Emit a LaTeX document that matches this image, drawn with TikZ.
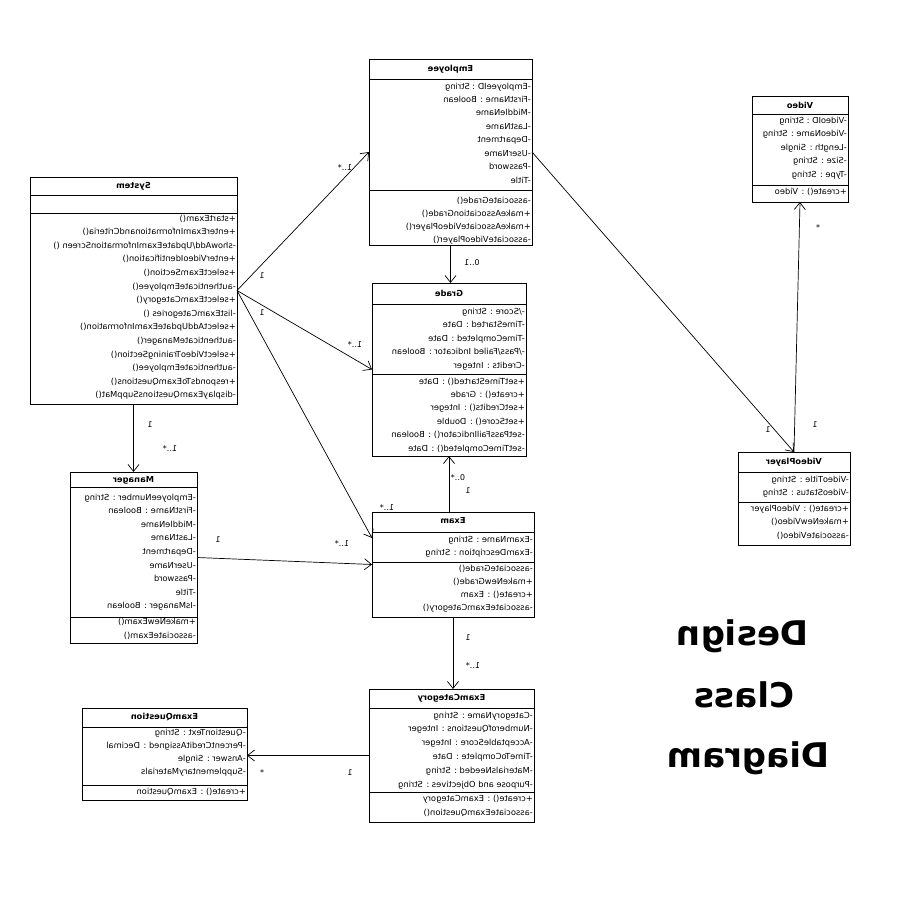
\documentclass[tikz,border=0pt]{standalone}
\usepackage{fontspec}
\setmainfont{DejaVu Sans}
\usepackage{graphicx}
\usetikzlibrary{arrows.meta,calc}
\newcommand\rf[1]{\reflectbox{#1}}
\newcommand\tlines[5]{\foreach \t [count=\i] in {#5} {\node[txt] (#1\i) at (#2,{#3+(\i-1)*#4}) {\rf{\t}};}}
\tikzset{
 cbox/.style={draw, line width=0.9pt, anchor=north west, inner sep=0pt, outer sep=0pt},
 txt/.style={anchor=east, inner sep=0pt, font=\fontsize{8.3}{10}\selectfont, text height=6pt, text depth=2pt},
 ttl/.style={inner sep=0pt, font=\bfseries\fontsize{8.3}{10}\selectfont},
 lbl/.style={inner sep=0pt, font=\fontsize{8}{10}\selectfont},
 assoc/.style={line width=0.7pt, -{Straight Barb[length=7pt,width=11pt,line width=0.7pt]}},
 sep/.style={line width=0.9pt},
 big/.style={inner sep=0pt, anchor=base, font=\bfseries\fontsize{34}{40}\selectfont},
}
\begin{document}
\begin{tikzpicture}[x=1pt,y=-1pt]
\path[use as bounding box, fill=white] (0,0) rectangle (900,900);

% Employee
\node[cbox, minimum width=163pt, minimum height=186pt] (emp) at (369,59) {};
\draw[sep] (369,79) -- (532,79);
\draw[sep] (369,190) -- (532,190);
\node[ttl] (empT) at (450.5,69) {\rf{Employee}};
\tlines{empa}{531}{87}{13.43}{{-EmployeeID : String},{-FirstName : Boolean},{-MiddleName},{-LastName},{-Department},{-UserName},{-Password},{-Title}}
\tlines{empm}{531}{201}{13}{{-associateGrade()},{+makeAssociationGrade()},{+makeAssociateVideoPlayer()},{-associateVideoPlayer()}}

% System
\node[cbox, minimum width=207pt, minimum height=227pt] (sys) at (30,177) {};
\draw[sep] (30,195) -- (237,195);
\draw[sep] (30,213) -- (237,213);
\node[ttl] (sysT) at (133.5,186) {\rf{System}};
\tlines{sysm}{236}{219}{13.6}{{+startExam()},{+enterExamInformationandCriteria()},{-showAdd/UpdateExamInformationScreen ()},{+enterVideoIdentification()},{+selectExamSection()},{-authenticateEmployee()},{+selectExamCategory()},{-listExamCategories ()},{+selectAddUpdateExamInformation()},{-authenticateManager()},{+selectVideoTrainingSection()},{-authenticateEmployee()},{+respondsToExamQuestions()},{-displayExamQuestionsSuppMat()}}

% Grade
\node[cbox, minimum width=154pt, minimum height=173pt] (grade) at (372,283) {};
\draw[sep] (372,304) -- (526,304);
\draw[sep] (372,374) -- (526,374);
\node[ttl] (gradeT) at (449,293) {\rf{Grade}};
\tlines{gradea}{525}{312}{13.5}{{-/Score : String},{-TimeStarted : Date},{-TimeCompleted : Date},{-/Pass/Failed Indicator : Boolean},{-Credits : Integer}}
\tlines{gradem}{525}{382}{13.4}{{+setTimeStarted() : Date},{+create() : Grade},{+setCredits() : Integer},{+setScore() : Double},{-setPassFailIndicator() : Boolean},{-setTimeCompleted() : Date}}

% Video
\node[cbox, minimum width=96pt, minimum height=106pt] (vid) at (752,96) {};
\draw[sep] (752,114) -- (848,114);
\draw[sep] (752,185) -- (848,185);
\node[ttl] (vidT) at (800,105) {\rf{Video}};
\tlines{vida}{847}{121}{13.5}{{-VideoID : String},{-VideoName : String},{-Length : Single},{-Size : String},{-Type : String}}
\tlines{vidm}{847}{192}{13}{{+create() : Video}}

% VideoPlayer
\node[cbox, minimum width=112pt, minimum height=93pt] (vp) at (738,452) {};
\draw[sep] (738,472) -- (850,472);
\draw[sep] (738,502) -- (850,502);
\node[ttl] (vpT) at (794,462) {\rf{VideoPlayer}};
\tlines{vpa}{849}{480}{13.3}{{-VideoTitle : String},{-VideoStatus : String}}
\tlines{vpm}{849}{509}{13.5}{{+create() : VideoPlayer},{+makeNewVideo()},{-associateVideo()}}

% Manager
\node[cbox, minimum width=127pt, minimum height=171pt] (man) at (70,472) {};
\draw[sep] (70,487) -- (197,487);
\draw[sep] (70,617) -- (197,617);
\node[ttl] (manT) at (133.5,480) {\rf{Manager}};
\tlines{mana}{196}{498}{13.6}{{-EmployeeNumber : String},{-FirstName : Boolean},{-MiddleName},{-LastName},{-Department},{-UserName},{-Password},{-Title},{-IsManager : Boolean}}
\tlines{manm}{196}{622}{14}{{+makeNewExam()},{-associateExam()}}

% Exam
\node[cbox, minimum width=162pt, minimum height=105pt] (exam) at (372,512) {};
\draw[sep] (372,532) -- (534,532);
\draw[sep] (372,562) -- (534,562);
\node[ttl] (examT) at (453,521) {\rf{Exam}};
\tlines{exama}{533}{540}{13.3}{{-ExamName : String},{-ExamDescription : String}}
\tlines{examm}{533}{569}{13.3}{{-associateGrade()},{+makeNewGrade()},{+create() : Exam},{-associateExamCategory()}}

% ExamCategory
\node[cbox, minimum width=165pt, minimum height=133pt] (ecat) at (369,689) {};
\draw[sep] (369,708) -- (534,708);
\draw[sep] (369,792) -- (534,792);
\node[ttl] (ecatT) at (451.5,698) {\rf{ExamCategory}};
\tlines{ecata}{533}{716}{13.8}{{-CategoryName : String},{-NumberofQuestions : Integer},{-AcceptableScore : Integer},{-TimeToComplete : Date},{-MaterialsNeeded : String},{-Purpose and Objectives : String}}
\tlines{ecatm}{533}{799}{14}{{+create() : ExamCategory},{-associateExamQuestion()}}

% ExamQuestion
\node[cbox, minimum width=165pt, minimum height=92pt] (eq) at (82,708) {};
\draw[sep] (82,727) -- (247,727);
\draw[sep] (82,785) -- (247,785);
\node[ttl] (eqT) at (164.5,717) {\rf{ExamQuestion}};
\tlines{eqa}{246}{733}{13.3}{{-QuestionText : String},{-PercentCreditAssigned : Decimal},{-Answer : Single},{-SupplementaryMaterials}}
\tlines{eqm}{246}{792}{13}{{+create() : ExamQuestion}}

% connectors
\draw[assoc] (sys.east) -- (emp.west);
\draw[assoc] (sys.east) -- (grade.west);
\coordinate (examin) at ($(exam.north west)+(0,26)$);
\draw[assoc] (sys.east) -- (examin);
\draw[assoc] (sys.south) -- (man.north);
\draw[assoc] (man.east) -- (exam.west);
\draw[assoc] (emp.south) -- (emp.south |- grade.north);
\draw[assoc] (grade.south |- exam.north) -- (grade.south);
\draw[assoc] (exam.south) -- (exam.south |- ecat.north);
\draw[assoc] (ecat.west) -- (ecat.west -| eq.east);
\draw[assoc] (emp.east) -- (vp.north);
\draw[assoc] (vp.north) -- (vid.south);

% multiplicities
\node[lbl] (m1) at (262,276) {\rf{1}};
\node[lbl] (m2) at (345,168) {\rf{1..*}};
\node[lbl] (m3) at (262,313) {\rf{1}};
\node[lbl] (m4) at (355,345) {\rf{1..*}};
\node[lbl] (m5) at (387,508) {\rf{1..*}};
\node[lbl] (m6) at (150,425) {\rf{1}};
\node[lbl] (m7) at (170,449) {\rf{1..*}};
\node[lbl] (m8) at (218,540) {\rf{1}};
\node[lbl] (m9) at (342,544) {\rf{1..*}};
\node[lbl] (m10) at (472,263) {\rf{0..1}};
\node[lbl] (m11) at (458,478) {\rf{0..*}};
\node[lbl] (m12) at (468,491) {\rf{1}};
\node[lbl] (m13) at (468,638) {\rf{1}};
\node[lbl] (m14) at (473,666) {\rf{1..*}};
\node[lbl] (m15) at (350,773) {\rf{1}};
\node[lbl] (m16) at (262,773) {\rf{*}};
\node[lbl] (m17) at (768,430) {\rf{1}};
\node[lbl] (m18) at (815,425) {\rf{1}};
\node[lbl] (m19) at (818,228) {\rf{*}};

% title
\node[big] (t1) at (742.5,645) {\rf{Design}};
\node[big] (t2) at (744,707) {\rf{Class}};
\node[big] (t3) at (748.5,767) {\rf{Diagram}};
\end{tikzpicture}
\end{document}
